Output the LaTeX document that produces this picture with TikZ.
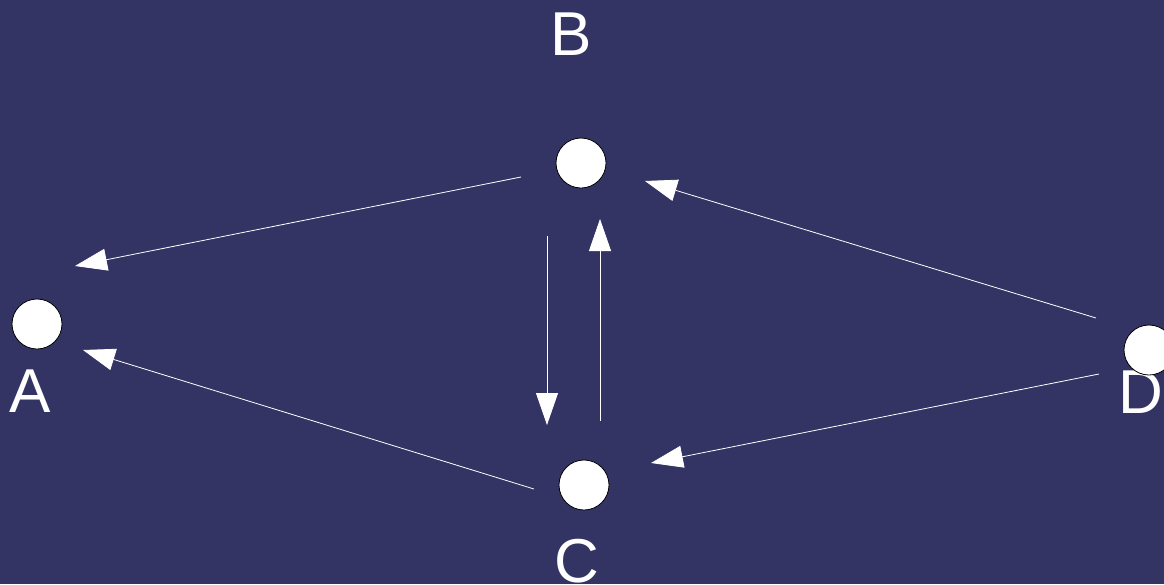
\documentclass[tikz,border=0pt]{standalone}
\usepackage{fontspec}
\setmainfont{Liberation Sans}
\usetikzlibrary{arrows.meta}
\definecolor{bg}{RGB}{52,52,100}
\tikzset{
  vertex/.style={circle,draw=black,fill=white,line width=0.8pt,minimum size=50pt,inner sep=0pt},
  lbl/.style={text=white,font=\fontsize{62}{68}\selectfont,inner sep=0pt},
  conn/.style={draw=white,line width=0.8pt,-{Triangle[length=32pt,width=22pt]}}
}
\begin{document}
\begin{tikzpicture}[x=1pt,y=-1pt]
\fill[bg] (0,0) rectangle (1164,584);
\useasboundingbox (0,0) rectangle (1164,584);
% labels
\node[lbl] (la) at (30,391) {A};
\node[lbl] (lb) at (571,34) {B};
\node[lbl] (lc) at (577,561) {C};
\node[lbl] (ld) at (1141,392) {D};
% vertices
\node[vertex] (A) at (37,324) {};
\node[vertex] (B) at (581,163) {};
\node[vertex] (C) at (584,485) {};
\node[vertex] (D) at (1149,350) {};
% connector end points
\coordinate (bas) at (521,177); \coordinate (bae) at (75,266);
\coordinate (cas) at (534,489); \coordinate (cae) at (83,350);
\coordinate (bcs) at (547,236); \coordinate (bce) at (547,425);
\coordinate (cbs) at (600,421); \coordinate (cbe) at (600,219);
\coordinate (dbs) at (1096,318); \coordinate (dbe) at (645,181);
\coordinate (dcs) at (1099,374); \coordinate (dce) at (651,463);
\draw[conn] (bas) -- (bae);
\draw[conn] (cas) -- (cae);
\draw[conn] (bcs) -- (bce);
\draw[conn] (cbs) -- (cbe);
\draw[conn] (dbs) -- (dbe);
\draw[conn] (dcs) -- (dce);
\end{tikzpicture}
\end{document}
